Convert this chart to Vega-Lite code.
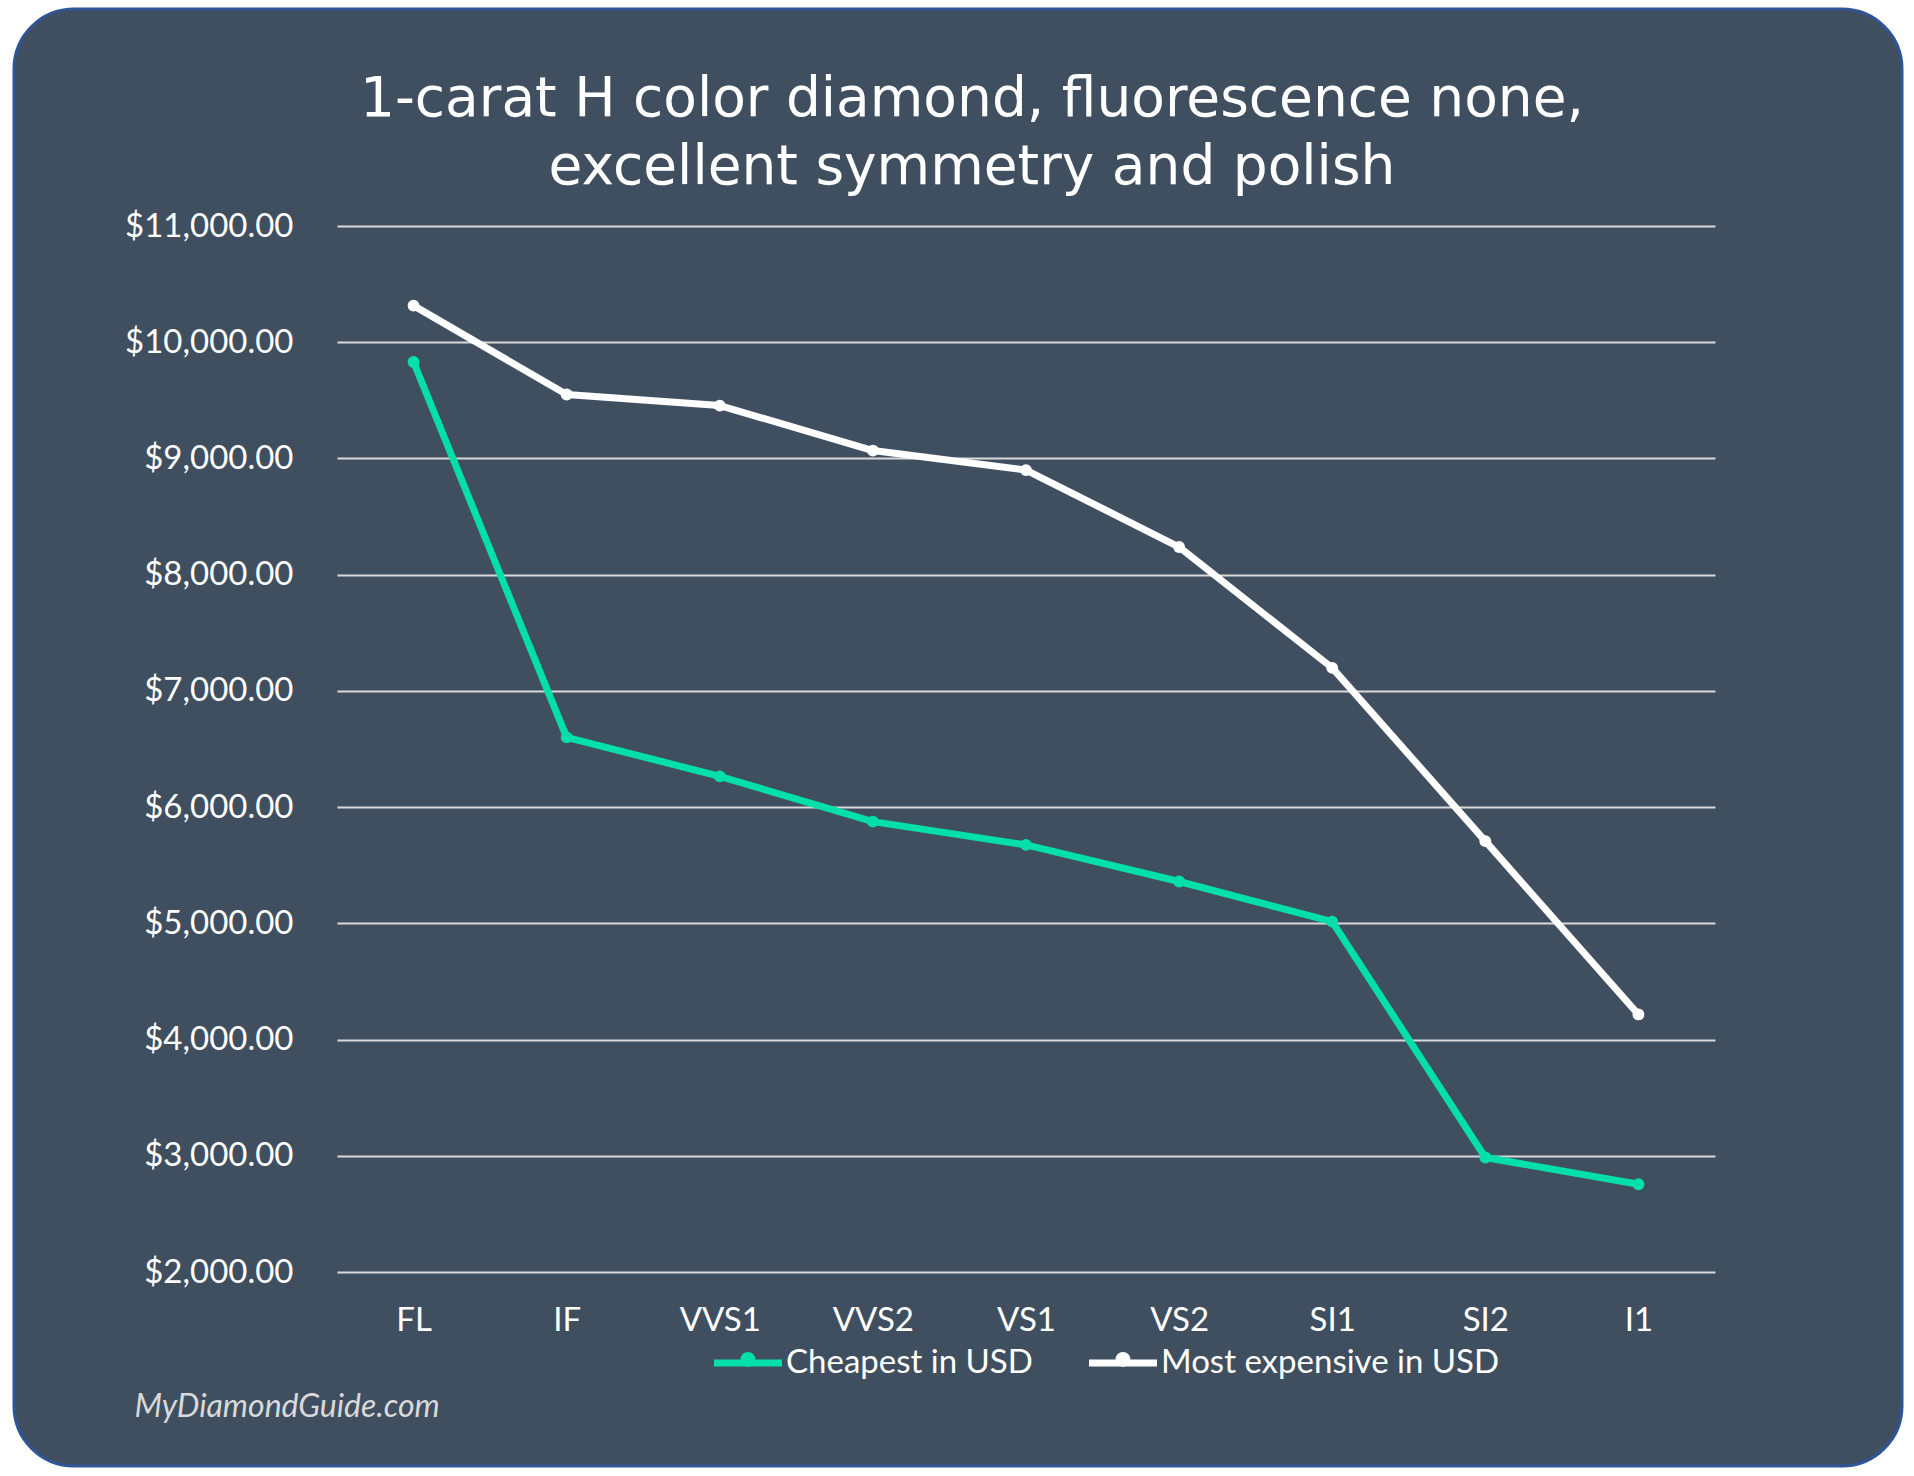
{
  "$schema": "https://vega.github.io/schema/vega-lite/v6.json",
  "width": 1888,
  "height": 1457,
  "autosize": {"type": "none"},
  "padding": {"left": 14, "top": 9, "right": 12, "bottom": 10},
  "background": "white",
  "title": {
    "text": ["1-carat H color diamond, fluorescence none,", "excellent symmetry and polish"],
    "font": "DejaVu Sans",
    "fontSize": 55,
    "fontWeight": 400,
    "color": "#FFFFFF",
    "anchor": "middle",
    "frame": "group",
    "baseline": "top",
    "offset": -187,
    "dx": 14,
    "lineHeight": 68
  },
  "data": {
    "values": [
      {"clarity": "FL", "series": "Cheapest in USD", "price": 9830},
      {"clarity": "IF", "series": "Cheapest in USD", "price": 6600},
      {"clarity": "VVS1", "series": "Cheapest in USD", "price": 6265},
      {"clarity": "VVS2", "series": "Cheapest in USD", "price": 5875},
      {"clarity": "VS1", "series": "Cheapest in USD", "price": 5675},
      {"clarity": "VS2", "series": "Cheapest in USD", "price": 5360},
      {"clarity": "SI1", "series": "Cheapest in USD", "price": 5015},
      {"clarity": "SI2", "series": "Cheapest in USD", "price": 2985},
      {"clarity": "I1", "series": "Cheapest in USD", "price": 2755},
      {"clarity": "FL", "series": "Most expensive in USD", "price": 10315},
      {"clarity": "IF", "series": "Most expensive in USD", "price": 9550},
      {"clarity": "VVS1", "series": "Most expensive in USD", "price": 9455},
      {"clarity": "VVS2", "series": "Most expensive in USD", "price": 9068},
      {"clarity": "VS1", "series": "Most expensive in USD", "price": 8900},
      {"clarity": "VS2", "series": "Most expensive in USD", "price": 8238},
      {"clarity": "SI1", "series": "Most expensive in USD", "price": 7198},
      {"clarity": "SI2", "series": "Most expensive in USD", "price": 5707},
      {"clarity": "I1", "series": "Most expensive in USD", "price": 4216}
    ]
  },
  "encoding": {
    "x": {
      "field": "clarity",
      "type": "ordinal",
      "sort": ["FL", "IF", "VVS1", "VVS2", "VS1", "VS2", "SI1", "SI2", "I1"],
      "scale": {"type": "point", "range": [323, 1701], "padding": 0.5},
      "axis": {
        "title": "MyDiamondGuide.com",
        "titleFont": "Lato",
        "titleFontStyle": "italic",
        "titleFontWeight": "normal",
        "titleFontSize": 32,
        "titleColor": "#D9D9D9",
        "titleX": 120,
        "titleY": 134,
        "titleAlign": "left",
        "titleBaseline": "middle",
        "titleAnchor": null,
        "offset": -194,
        "domain": false,
        "ticks": false,
        "tickSize": 0,
        "grid": false,
        "labelPadding": 32,
        "labelFont": "Lato",
        "labelFontSize": 33,
        "labelColor": "#FFFFFF",
        "labelAngle": 0
      }
    },
    "y": {
      "field": "price",
      "type": "quantitative",
      "scale": {"domain": [2000, 11000], "range": [1263, 217], "nice": false, "zero": false},
      "axis": {
        "title": null,
        "offset": -323,
        "domain": false,
        "ticks": false,
        "tickSize": 0,
        "grid": true,
        "gridColor": "#D9D9D9",
        "gridWidth": 2,
        "values": [2000, 3000, 4000, 5000, 6000, 7000, 8000, 9000, 10000, 11000],
        "format": "$,.2f",
        "labelPadding": 44,
        "labelFont": "Lato",
        "labelFontSize": 33,
        "labelColor": "#FFFFFF"
      }
    },
    "color": {
      "field": "series",
      "type": "nominal",
      "scale": {"domain": ["Cheapest in USD", "Most expensive in USD"], "range": ["#03DFA9", "#FFFFFF"]},
      "legend": {
        "title": null,
        "orient": "none",
        "legendX": 700,
        "legendY": 1320,
        "direction": "horizontal",
        "padding": 0,
        "columnPadding": 56,
        "labelOffset": 4,
        "labelLimit": 0,
        "labelFont": "Lato",
        "labelFontSize": 33,
        "labelColor": "#FFFFFF",
        "symbolType": "M-1,-0.1H1V0.1H-1Z M-0.22,-0.1A0.22,0.22 0 1,1 0.22,-0.1A0.22,0.22 0 1,1 -0.22,-0.1Z",
        "symbolSize": 4624,
        "symbolStrokeWidth": 0,
        "symbolOpacity": 1,
        "encode": {"symbols": {"update": {"fill": {"scale": "color", "field": "value"}, "strokeWidth": {"value": 0}}}}
      }
    }
  },
  "layer": [
    {"mark": {"type": "line", "strokeWidth": 7, "strokeCap": "round", "strokeJoin": "round"}},
    {"mark": {"type": "point", "filled": true, "size": 140, "opacity": 1}}
  ],
  "config": {
    "view": {"fill": "#404F60", "stroke": "#2F5597", "strokeWidth": 3, "cornerRadius": 60}
  }
}
